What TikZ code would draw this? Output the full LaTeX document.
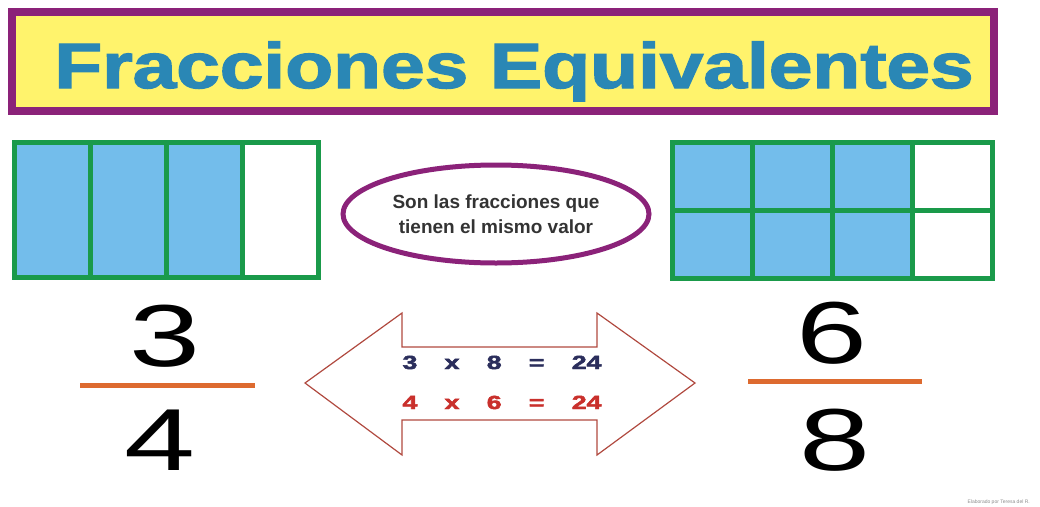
\documentclass[tikz,border=0pt]{standalone}
\usepackage{fontspec}
\setmainfont{Liberation Sans}
\newfontfamily\eqfont[WordSpace=3.7,FakeBold=2.5]{Liberation Sans Bold}
\newfontfamily\titlefont[FakeBold=2]{Liberation Sans Bold}
\usetikzlibrary{shapes.geometric}
\definecolor{titlepurple}{HTML}{8B2279}
\definecolor{titleyellow}{HTML}{FFF36C}
\definecolor{titleblue}{HTML}{2A87B5}
\definecolor{cellgreen}{HTML}{1A9A4A}
\definecolor{cellblue}{HTML}{73BDEB}
\definecolor{barorange}{HTML}{DD6A2F}
\definecolor{eqnavy}{HTML}{2B2E5C}
\definecolor{eqred}{HTML}{C9302C}
\definecolor{arrowred}{HTML}{B0493F}
\begin{document}
\begin{tikzpicture}[x=1pt,y=-1pt]
\tikzstyle{grid}=[draw=cellgreen,line width=5pt]
\tikzstyle{digit}=[inner sep=0pt,anchor=base,xscale=1.45,transform shape,font=\fontsize{88}{88}\selectfont]
\tikzstyle{bar}=[draw=barorange,line width=5pt]
\tikzstyle{eq}=[inner sep=0pt,anchor=base,xscale=1.4,transform shape,font=\eqfont\fontsize{19}{19}\selectfont]
\useasboundingbox (0,0) rectangle (1040,506);
% title
\draw[titlepurple,line width=8pt,fill=titleyellow] (12,12) rectangle (994,111);
\node (titulo) [inner sep=0pt,anchor=base,xscale=1.225,transform shape,text=titleblue,
  font=\titlefont\fontsize{64}{64}\selectfont] at (514,88) {Fracciones Equivalentes};
% 3/4 grid
\fill[cellblue] (14,142) rectangle (242,277);
\draw[grid] (14,142) rectangle (318,277);
\foreach \x in {90,166,242} \draw[grid] (\x,142) -- (\x,277);
% 6/8 grid
\fill[cellblue] (672,142) rectangle (912,278);
\draw[grid] (672,142) rectangle (992,278);
\foreach \x in {752,832,912} \draw[grid] (\x,142) -- (\x,278);
\draw[grid] (672,210) -- (992,210);
% definition
\node (defin) [ellipse,draw=titlepurple,line width=5pt,minimum width=306pt,minimum height=98pt,
  align=center,text=black!80,font=\bfseries\fontsize{19}{25}\selectfont,inner sep=0pt] at (496,214)
  {Son las fracciones que\\tienen el mismo valor};
% double arrow
\draw[arrowred,line width=1.2pt] (305,383) -- (402,313) -- (402,347) -- (597,347) -- (597,313)
  -- (695,383) -- (597,455) -- (597,420) -- (402,420) -- (402,455) -- cycle;
\node (prod1) [eq,text=eqnavy] at (502,369) {3 x 8 = 24};
\node (prod2) [eq,text=eqred] at (502,409) {4 x 6 = 24};
% fractions
\node (tres) [digit] at (165,366) {3};
\node (cuatro) [digit] at (160,470) {4};
\draw[bar] (80,385) -- (255,385);
\node (seis) [digit] at (832,363) {6};
\node (ocho) [digit] at (835,470) {8};
\draw[bar] (748,381) -- (922,381);
\node (firma) [anchor=base east,inner sep=0pt,text=black!45,font=\fontsize{5}{5}\selectfont] at (1030,503)
  {Elaborado por Teresa del R.};
\end{tikzpicture}
\end{document}
